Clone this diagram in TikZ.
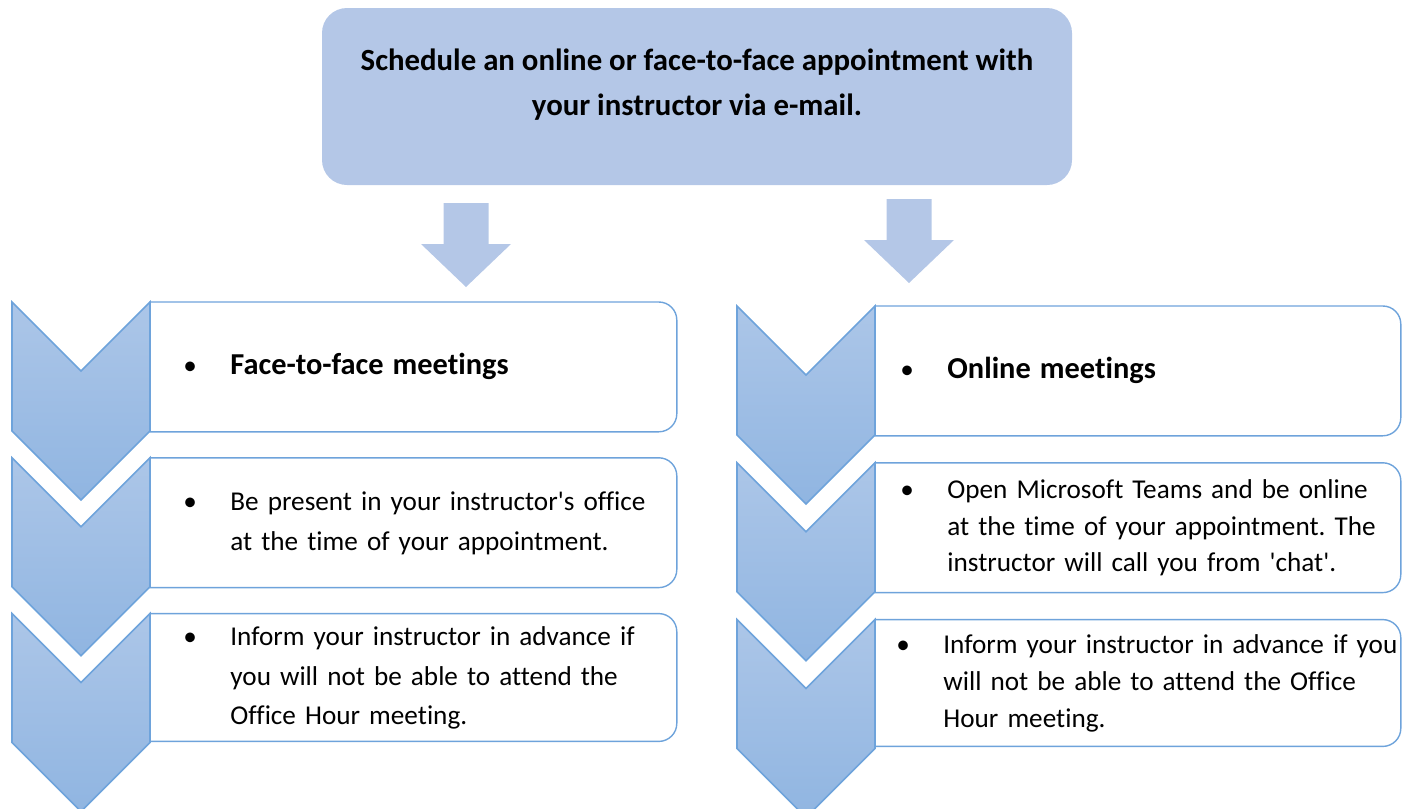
\documentclass[tikz,border=0pt]{standalone}
\usepackage{fontspec}
\setmainfont{Carlito}[Ligatures={NoCommon}]
\usepackage{tikz}
\usetikzlibrary{calc,positioning}
\frenchspacing

\definecolor{topblue}{RGB}{180,199,231}
\definecolor{chevtop}{RGB}{172,198,232}
\definecolor{chevbot}{RGB}{144,181,225}
\definecolor{lineblue}{RGB}{110,163,219}

\tikzset{
  topbox/.style={rounded corners=12.5pt, fill=topblue, minimum width=375pt, minimum height=88.5pt},
  toptext/.style={align=center, font=\fontsize{15.4}{22.5}\selectfont\bfseries},
  stepbox/.style={minimum height=64.5pt, inner ysep=0pt, inner xsep=16.5pt, text width=230pt, align=left, font=\fontsize{13.6}{19.7}\selectfont},
  boxline/.style={draw=lineblue, line width=0.7pt},
  chevshape/.style={top color=chevtop, bottom color=chevbot, draw=lineblue, line width=0.8pt},
  blockarrow/.style={fill=topblue},
  chev/.pic={\shade[chevshape] (0,0) -- (69,69) -- (138,0) -- (138,129) -- (69,198) -- (0,129) -- cycle;},
  downarrow/.pic={\fill[blockarrow] (-22.5,0) -- (22.5,0) -- (22.5,41) -- (45,41) -- (0,84) -- (-45,41) -- (-22.5,41) -- cycle;}
}

\newcommand{\bulletitem}[1]{\noindent\begin{tabular}{@{}p{23.5pt}@{}l@{}}\textbullet & #1\end{tabular}}
\newcommand{\headtext}[1]{{\fontsize{15.2}{19.7}\selectfont\bfseries #1}}

\begin{document}
\begin{tikzpicture}[x=0.5pt,y=-0.5pt]
  \useasboundingbox (0,0) rectangle (1410,809);

  % appointment box
  \node[topbox] (sched) at (697,96.5) {};
  \node[toptext] (schedtext) at (697,85) {Schedule an online or face-to-face appointment with\\your instructor via e-mail.};

  \pic at (466,203) {downarrow};
  \pic at (909,199) {downarrow};

  % face-to-face column
  \node[stepbox, anchor=north west] (f1) at (150,302) {\bulletitem{\headtext{Face-to-face meetings}}};
  \node[stepbox] (f2) [below=13pt of f1] {\bulletitem{Be present in your instructor\textquotesingle s office\\ & at the time of your appointment.}};
  \node[stepbox, minimum height=63.5pt] (f3) [below=13pt of f2] {\bulletitem{Inform your instructor in advance if\\ & you will not be able to attend the\\ & Office Hour meeting.}};

  % online column
  \node[stepbox, anchor=north west, inner xsep=12.5pt, text width=237.5pt] (o1) at (875,306) {\bulletitem{\headtext{Online meetings}}};
  \node[stepbox, inner xsep=12.5pt, text width=237.5pt, font=\fontsize{13.6}{18.3}\selectfont] (o2) [below=13.5pt of o1] {\bulletitem{Open Microsoft Teams and be online\\ & at the time of your appointment. The\\ & instructor will call you from \textquotesingle chat\textquotesingle .}};
  \node[stepbox, minimum height=63pt, inner xsep=10.5pt, text width=241.5pt, font=\fontsize{13.6}{18.7}\selectfont] (o3) [below=13.5pt of o2] {\bulletitem{Inform your instructor in advance if you\\ & will not be able to attend the Office\\ & Hour meeting.}};

  \foreach \b in {f1,f2,f3,o1,o2,o3}
    \draw[boxline] (\b.south west) -- (\b.north west) -- ([xshift=-9pt]\b.north east)
      arc[start angle=90, end angle=0, radius=9pt] -- ([yshift=9pt]\b.south east)
      arc[start angle=0, end angle=-90, radius=9pt] -- cycle;

  \foreach \b in {f1,f2,f3,o1,o2,o3}
    \pic at ([xshift=-69pt]\b.north west) {chev};
\end{tikzpicture}
\end{document}
